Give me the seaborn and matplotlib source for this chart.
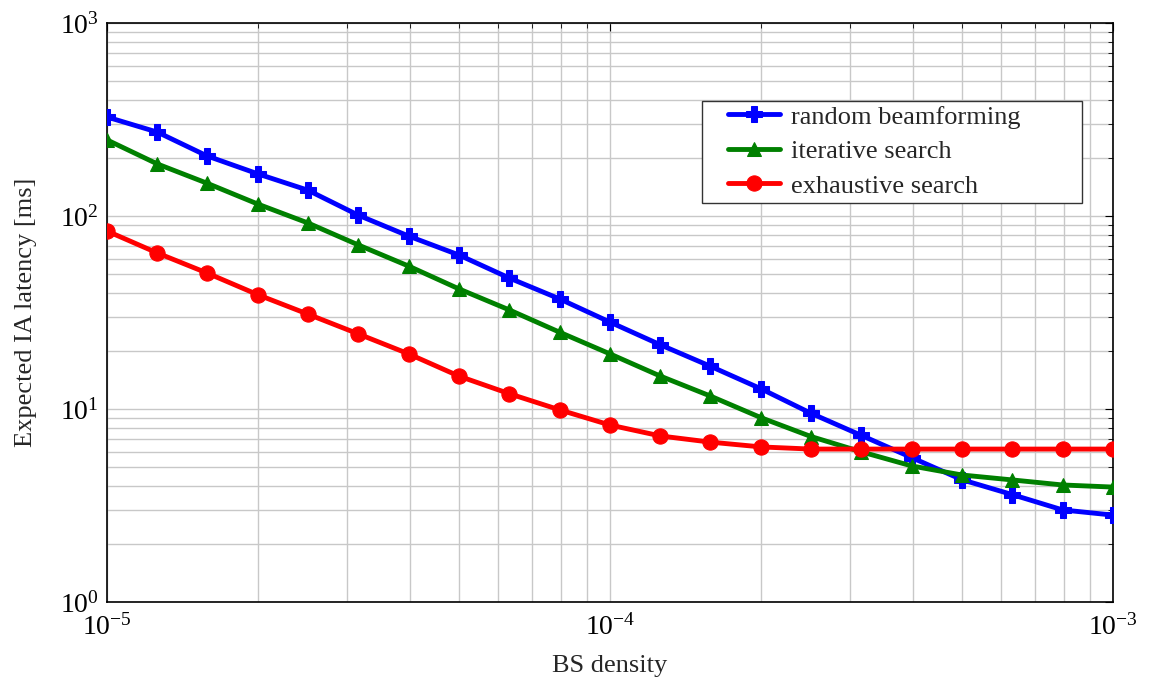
import numpy as np
import pandas as pd
import matplotlib
matplotlib.use("Agg")
import matplotlib.pyplot as plt
from matplotlib.patches import Rectangle
import seaborn as sns

# BS density (10 points per decade, 1e-5 .. 1e-3)
bs_density = [1.0e-5, 1.26e-5, 1.58e-5, 2.0e-5, 2.51e-5, 3.16e-5, 3.98e-5, 5.01e-5,
              6.31e-5, 7.94e-5, 1.0e-4, 1.26e-4, 1.58e-4, 2.0e-4, 2.51e-4, 3.16e-4,
              3.98e-4, 5.01e-4, 6.31e-4, 7.94e-4, 1.0e-3]

random_beamforming = [326, 272, 205, 165, 136, 101, 78.7, 62.8, 47.7, 37.2, 28.2,
                      21.5, 16.7, 12.7, 9.5, 7.3, 5.6, 4.3, 3.6, 3.0, 2.82]
iterative_search = [248, 186, 148, 115, 92, 70.8, 55, 41.9, 32.6, 25, 19.3,
                    14.8, 11.7, 9.0, 7.2, 6.0, 5.07, 4.55, 4.29, 4.04, 3.94]
exhaustive_search = [83.6, 64.3, 50.7, 39, 31, 24.5, 19.3, 14.8, 12.0, 9.9, 8.26,
                     7.25, 6.74, 6.36, 6.2, 6.2, 6.2, 6.2, 6.2, 6.2, 6.2]

series_names = ["random beamforming", "iterative search", "exhaustive search"]

df = pd.DataFrame({
    "density": bs_density * 3,
    "latency": random_beamforming + iterative_search + exhaustive_search,
    "method": sum([[n] * len(bs_density) for n in series_names], []),
})

sns.set_theme(style="white")
plt.rcParams["font.family"] = ["Liberation Serif", "DejaVu Serif"]
plt.rcParams["mathtext.fontset"] = "stix"

fig = plt.figure(figsize=(11.53, 6.78), dpi=100)
ax = fig.add_axes([0.0928, 0.1121, 0.8725, 0.8539])

styles = {
    "random beamforming": dict(color="#0000ff", marker="P", ms=12),
    "iterative search": dict(color="#008000", marker="^", ms=10),
    "exhaustive search": dict(color="#ff0000", marker="o", ms=11),
}

for name in series_names:
    sub = df[df["method"] == name]
    st = styles[name]
    sns.lineplot(data=sub, x="density", y="latency", ax=ax, label=name,
                 color=st["color"], marker=st["marker"], markersize=st["ms"],
                 markeredgecolor=st["color"], markerfacecolor=st["color"],
                 linewidth=3.5, zorder=3)

ax.set_xscale("log")
ax.set_yscale("log")
ax.set_xlim(1e-5, 1e-3)
ax.set_ylim(1, 1000)

ax.grid(True, which="both", color="#c8c8c8", linewidth=1.0)
ax.tick_params(which="both", direction="in", top=True, right=True, colors="black")
ax.tick_params(which="major", length=6, width=0.8, labelsize=20)
ax.tick_params(which="minor", length=3.5, width=0.6)
ax.tick_params(axis="x", pad=9)
ax.tick_params(axis="y", pad=6)
for s in ax.spines.values():
    s.set_color("black")
    s.set_linewidth(1.2)

ax.set_xlabel("BS density", fontsize=19, labelpad=10)
ax.set_ylabel("Expected IA latency [ms]", fontsize=19, labelpad=16)

# legend box with a fixed size, entries drawn on top of it
ax.add_patch(Rectangle((0.5915, 0.6891), 0.3777, 0.1762, transform=ax.transAxes,
                       facecolor="white", edgecolor="#333333", linewidth=1.0,
                       zorder=5))
leg = ax.legend(loc="upper left", bbox_to_anchor=(0.609, 0.872), fontsize=19,
                frameon=False, handlelength=2.0, borderpad=0.3,
                labelspacing=0.42, handletextpad=0.4, borderaxespad=0)
leg.set_zorder(6)

fig.savefig("out.png", dpi=100)
